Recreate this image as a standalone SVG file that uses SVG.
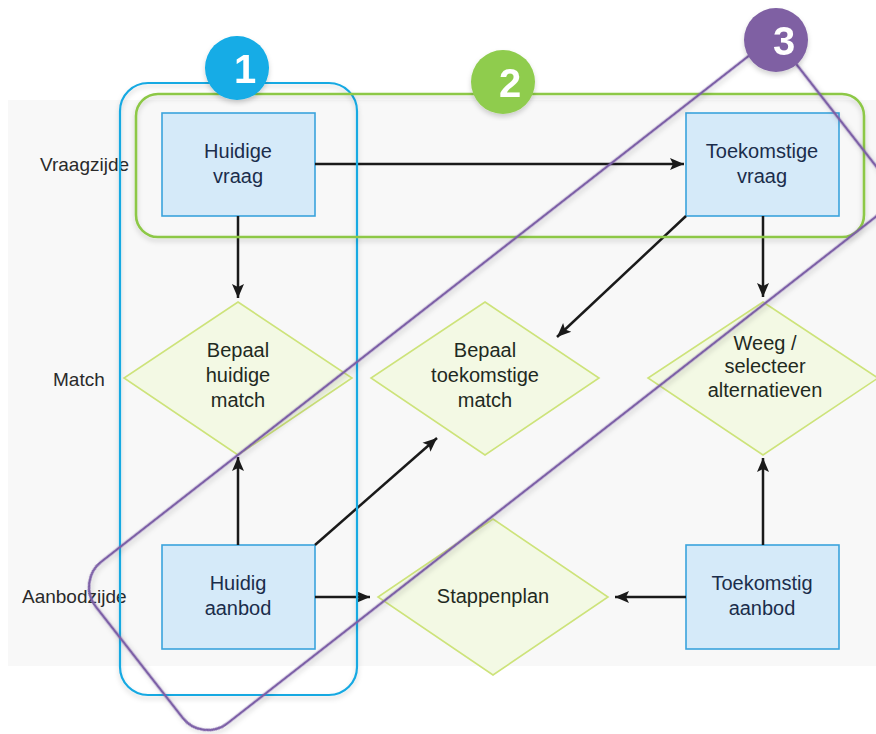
<svg xmlns="http://www.w3.org/2000/svg" width="876" height="734" viewBox="0 0 876 734">
  <style>
    .box { fill: #d5eaf9; stroke: #3aa3dc; stroke-width: 1.6; }
    .dia { fill: #f3f9e4; stroke: #cde37a; stroke-width: 1.6; }
    .boxtxt { font-family: "Liberation Sans", Arial, sans-serif; font-size: 20px; fill: #1b2d4b; text-anchor: middle; }
    .diatxt { font-family: "Liberation Sans", Arial, sans-serif; font-size: 20px; fill: #1f2a1f; text-anchor: middle; }
    .row { font-family: "Liberation Sans", Arial, sans-serif; font-size: 19px; fill: #2a2a2a; }
    .conn { stroke: #1a1a1a; stroke-width: 2.5; fill: none; marker-end: url(#arrow); }
    .frame { fill: none; filter: url(#shadow); }
    .num { font-family: "Liberation Sans", Arial, sans-serif; font-weight: bold; font-size: 40px; fill: #ffffff; text-anchor: middle; }
  </style>
  <defs>
    <marker id="arrow" markerUnits="userSpaceOnUse" markerWidth="16" markerHeight="14" refX="14" refY="7" orient="auto">
      <path d="M0,1 L14,7 L0,13 L3,7 Z" fill="#1a1a1a"/>
    </marker>
    <filter id="shadow" x="-10%" y="-10%" width="120%" height="120%">
      <feDropShadow dx="0" dy="3" stdDeviation="2.5" flood-color="#000000" flood-opacity="0.18"/>
    </filter>
  </defs>

  <rect x="0" y="0" width="876" height="734" fill="#ffffff"/>
  <rect x="8" y="100" width="868" height="566" fill="#f8f8f8"/>

  <!-- row labels -->
  <text class="row" x="40" y="171">Vraagzijde</text>
  <text class="row" x="53" y="386">Match</text>
  <text class="row" x="22" y="603">Aanbodzijde</text>

  <!-- nodes -->
  <g id="huidige-vraag">
    <rect class="box" x="162" y="113" width="153" height="103"/>
    <text class="boxtxt" x="238" y="158">Huidige</text>
    <text class="boxtxt" x="238" y="183">vraag</text>
  </g>
  <g id="toekomstige-vraag">
    <rect class="box" x="686" y="113" width="153" height="103"/>
    <text class="boxtxt" x="762" y="158">Toekomstige</text>
    <text class="boxtxt" x="762" y="183">vraag</text>
  </g>
  <g id="huidig-aanbod">
    <rect class="box" x="162" y="545" width="153" height="104"/>
    <text class="boxtxt" x="238" y="590">Huidig</text>
    <text class="boxtxt" x="238" y="615">aanbod</text>
  </g>
  <g id="toekomstig-aanbod">
    <rect class="box" x="686" y="545" width="153" height="104"/>
    <text class="boxtxt" x="762" y="590">Toekomstig</text>
    <text class="boxtxt" x="762" y="615">aanbod</text>
  </g>
  <g id="bepaal-huidige-match">
    <polygon class="dia" points="238,302 352,378 238,455 124,378"/>
    <text class="diatxt" x="238" y="357">Bepaal</text>
    <text class="diatxt" x="238" y="382">huidige</text>
    <text class="diatxt" x="238" y="407">match</text>
  </g>
  <g id="bepaal-toekomstige-match">
    <polygon class="dia" points="485,302 599,378 485,455 371,378"/>
    <text class="diatxt" x="485" y="357">Bepaal</text>
    <text class="diatxt" x="485" y="382">toekomstige</text>
    <text class="diatxt" x="485" y="407">match</text>
  </g>
  <g id="weeg-selecteer">
    <polygon class="dia" points="763,302 878,378 763,455 648,378"/>
    <text class="diatxt" x="765" y="350">Weeg /</text>
    <text class="diatxt" x="765" y="373">selecteer</text>
    <text class="diatxt" x="765" y="397">alternatieven</text>
  </g>
  <g id="stappenplan">
    <polygon class="dia" points="493,519 608,597 493,675 378,597"/>
    <text class="diatxt" x="493" y="603">Stappenplan</text>
  </g>

  <!-- connectors -->
  <g id="connectors">
    <line class="conn" x1="315" y1="164" x2="684" y2="164"/>
    <line class="conn" x1="238" y1="216" x2="238" y2="298"/>
    <line class="conn" x1="238" y1="545" x2="238" y2="457"/>
    <line class="conn" x1="315" y1="545" x2="437" y2="438"/>
    <line class="conn" x1="686" y1="216" x2="557" y2="337"/>
    <line class="conn" x1="763" y1="216" x2="763" y2="297"/>
    <line class="conn" x1="763" y1="545" x2="763" y2="458"/>
    <line class="conn" x1="315" y1="597" x2="370" y2="597"/>
    <line class="conn" x1="686" y1="597" x2="615" y2="597"/>
  </g>

  <!-- grouping frames -->
  <g id="frame-1">
    <rect class="frame" x="120" y="83" width="237" height="612" rx="28" stroke="#19a9e2" stroke-width="2.2"/>
  </g>
  <g id="frame-2">
    <rect class="frame" x="136" y="94" width="728" height="143" rx="22" stroke="#8dc847" stroke-width="2.6"/>
  </g>
  <g id="frame-3">
    <rect class="frame" x="-298" y="505" width="886" height="205" rx="32" transform="rotate(-38)" stroke="#7c5fa6" stroke-width="2.6"/>
  </g>

  <!-- badges -->
  <g id="badge-1" filter="url(#shadow)">
    <circle cx="237" cy="68" r="32" fill="#12ace6"/>
    <text class="num" x="245" y="83">1</text>
  </g>
  <g id="badge-2" filter="url(#shadow)">
    <circle cx="503" cy="82" r="32" fill="#8fcc4e"/>
    <text class="num" x="510" y="97">2</text>
  </g>
  <g id="badge-3" filter="url(#shadow)">
    <circle cx="776" cy="40" r="32" fill="#7f61a3"/>
    <text class="num" x="784" y="55">3</text>
  </g>
</svg>
